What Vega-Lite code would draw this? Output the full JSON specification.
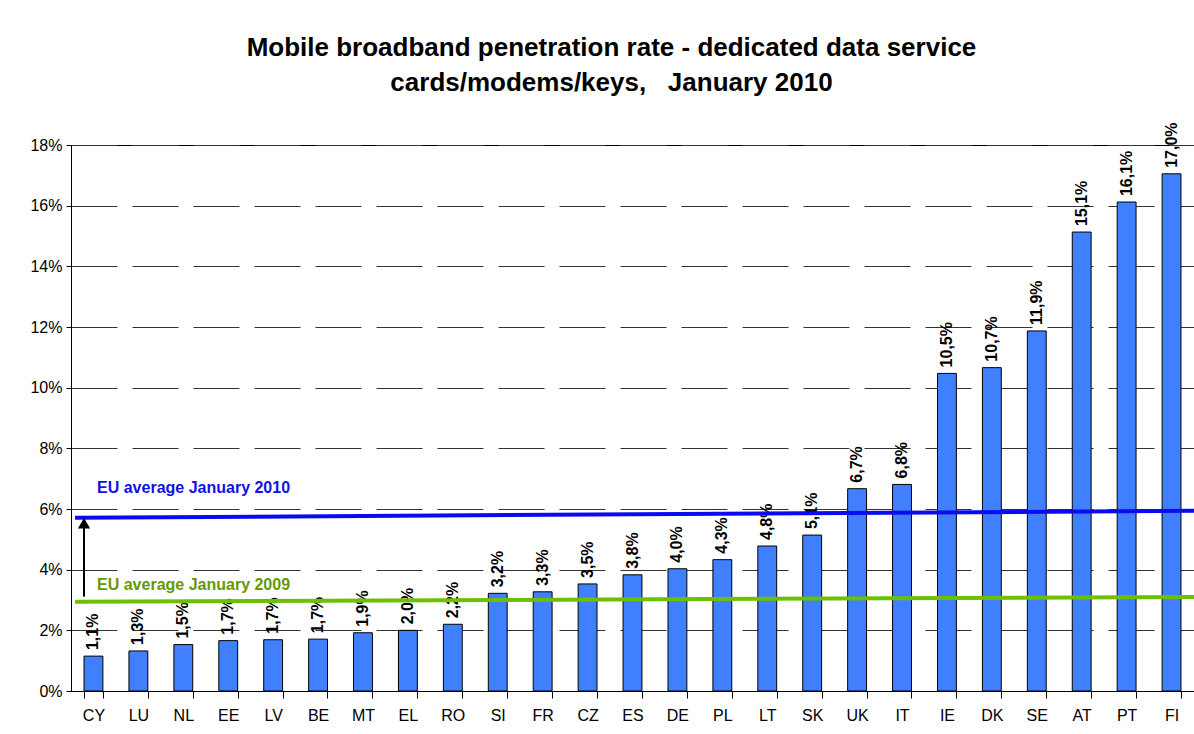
{
  "$schema": "https://vega.github.io/schema/vega-lite/v6.json",
  "width": 1123,
  "height": 546,
  "autosize": {"type": "none"},
  "padding": {"left": 71, "top": 145, "right": 0, "bottom": 43},
  "background": "white",
  "config": {
    "view": {"stroke": "black", "strokeWidth": 1},
    "font": "Liberation Sans"
  },
  "title": {
    "text": ["Mobile broadband penetration rate - dedicated data service", "cards/modems/keys,\u00a0\u00a0\u00a0January 2010"],
    "font": "Liberation Sans",
    "fontSize": 26,
    "fontWeight": "bold",
    "color": "black",
    "anchor": "middle",
    "dx": -21,
    "offset": 26,
    "lineHeight": 35
  },
  "datasets": {
    "bars": [
      {"country": "CY", "rate": 1.15, "label": "1,1%"},
      {"country": "LU", "rate": 1.32, "label": "1,3%"},
      {"country": "NL", "rate": 1.53, "label": "1,5%"},
      {"country": "EE", "rate": 1.66, "label": "1,7%"},
      {"country": "LV", "rate": 1.69, "label": "1,7%"},
      {"country": "BE", "rate": 1.71, "label": "1,7%"},
      {"country": "MT", "rate": 1.92, "label": "1,9%"},
      {"country": "EL", "rate": 2.0, "label": "2,0%"},
      {"country": "RO", "rate": 2.2, "label": "2,2%"},
      {"country": "SI", "rate": 3.22, "label": "3,2%"},
      {"country": "FR", "rate": 3.27, "label": "3,3%"},
      {"country": "CZ", "rate": 3.53, "label": "3,5%"},
      {"country": "ES", "rate": 3.83, "label": "3,8%"},
      {"country": "DE", "rate": 4.03, "label": "4,0%"},
      {"country": "PL", "rate": 4.33, "label": "4,3%"},
      {"country": "LT", "rate": 4.78, "label": "4,8%"},
      {"country": "SK", "rate": 5.14, "label": "5,1%"},
      {"country": "UK", "rate": 6.67, "label": "6,7%"},
      {"country": "IT", "rate": 6.81, "label": "6,8%"},
      {"country": "IE", "rate": 10.47, "label": "10,5%"},
      {"country": "DK", "rate": 10.66, "label": "10,7%"},
      {"country": "SE", "rate": 11.87, "label": "11,9%"},
      {"country": "AT", "rate": 15.13, "label": "15,1%"},
      {"country": "PT", "rate": 16.12, "label": "16,1%"},
      {"country": "FI", "rate": 17.05, "label": "17,0%"}
    ],
    "averages": [
      {"series": "EU average January 2010", "pos": 0.09, "rate": 5.71},
      {"series": "EU average January 2010", "pos": 25, "rate": 5.94},
      {"series": "EU average January 2009", "pos": 0.09, "rate": 2.94},
      {"series": "EU average January 2009", "pos": 25, "rate": 3.1}
    ],
    "notes": [
      {"series": "EU average January 2010", "pos": 0.58, "rate": 6.69},
      {"series": "EU average January 2009", "pos": 0.58, "rate": 3.49}
    ],
    "arrow": [
      {"pos": 0.29, "from": 3.11, "to": 5.4, "head": 5.53}
    ]
  },
  "layer": [
    {
      "data": {"name": "bars"},
      "layer": [
        {
          "mark": {"type": "bar", "color": "#4080FF", "stroke": "black", "strokeWidth": 1},
          "encoding": {
            "x": {
              "field": "country", "type": "nominal", "sort": null,
              "scale": {"paddingInner": 0.58, "paddingOuter": 0.29},
              "axis": {
                "title": null, "labelAngle": 0, "labelFontSize": 16, "labelColor": "black",
                "tickBand": "extent", "tickSize": 7, "tickColor": "black",
                "domainColor": "black", "labelPadding": 9, "grid": false
              }
            },
            "y": {
              "field": "rate", "type": "quantitative",
              "scale": {"domain": [0, 18], "nice": false},
              "axis": {
                "title": null, "values": [0, 2, 4, 6, 8, 10, 12, 14, 16, 18],
                "labelExpr": "datum.value + '%'", "labelFontSize": 16, "labelColor": "black",
                "tickSize": 5, "tickColor": "black", "domainColor": "black", "labelPadding": 4,
                "grid": true, "gridColor": "#333333", "gridDash": [46, 15], "gridWidth": 1
              }
            }
          }
        },
        {
          "mark": {"type": "text", "angle": 270, "align": "left", "baseline": "middle", "dx": 6, "fontSize": 16, "fontWeight": "bold", "color": "black"},
          "encoding": {
            "x": {"field": "country", "type": "nominal", "sort": null},
            "y": {"field": "rate", "type": "quantitative"},
            "text": {"field": "label"}
          }
        }
      ]
    },
    {
      "data": {"name": "averages"},
      "mark": {"type": "line", "strokeWidth": 4},
      "encoding": {
        "x": {"field": "pos", "type": "quantitative", "scale": {"domain": [0, 25], "nice": false, "zero": false}, "axis": null},
        "y": {"field": "rate", "type": "quantitative"},
        "color": {
          "field": "series", "type": "nominal",
          "scale": {"domain": ["EU average January 2010", "EU average January 2009"], "range": ["#0A0AF0", "#6CC000"]},
          "legend": null
        }
      }
    },
    {
      "data": {"name": "notes"},
      "mark": {"type": "text", "align": "left", "baseline": "middle", "fontSize": 16, "fontWeight": "bold"},
      "encoding": {
        "x": {"field": "pos", "type": "quantitative", "scale": {"domain": [0, 25], "nice": false, "zero": false}, "axis": null},
        "y": {"field": "rate", "type": "quantitative"},
        "text": {"field": "series"},
        "color": {
          "field": "series", "type": "nominal",
          "scale": {"domain": ["EU average January 2010", "EU average January 2009"], "range": ["#1010E8", "#669900"]},
          "legend": null
        }
      }
    },
    {
      "data": {"name": "arrow"},
      "layer": [
        {
          "mark": {"type": "rule", "color": "black", "strokeWidth": 2},
          "encoding": {
            "x": {"field": "pos", "type": "quantitative", "scale": {"domain": [0, 25], "nice": false, "zero": false}, "axis": null},
            "y": {"field": "from", "type": "quantitative"},
            "y2": {"field": "to"}
          }
        },
        {
          "mark": {"type": "point", "shape": "triangle-up", "filled": true, "color": "black", "size": 150, "opacity": 1},
          "encoding": {
            "x": {"field": "pos", "type": "quantitative", "scale": {"domain": [0, 25], "nice": false, "zero": false}, "axis": null},
            "y": {"field": "head", "type": "quantitative"}
          }
        }
      ]
    }
  ],
  "resolve": {"scale": {"x": "independent", "color": "independent"}}
}
